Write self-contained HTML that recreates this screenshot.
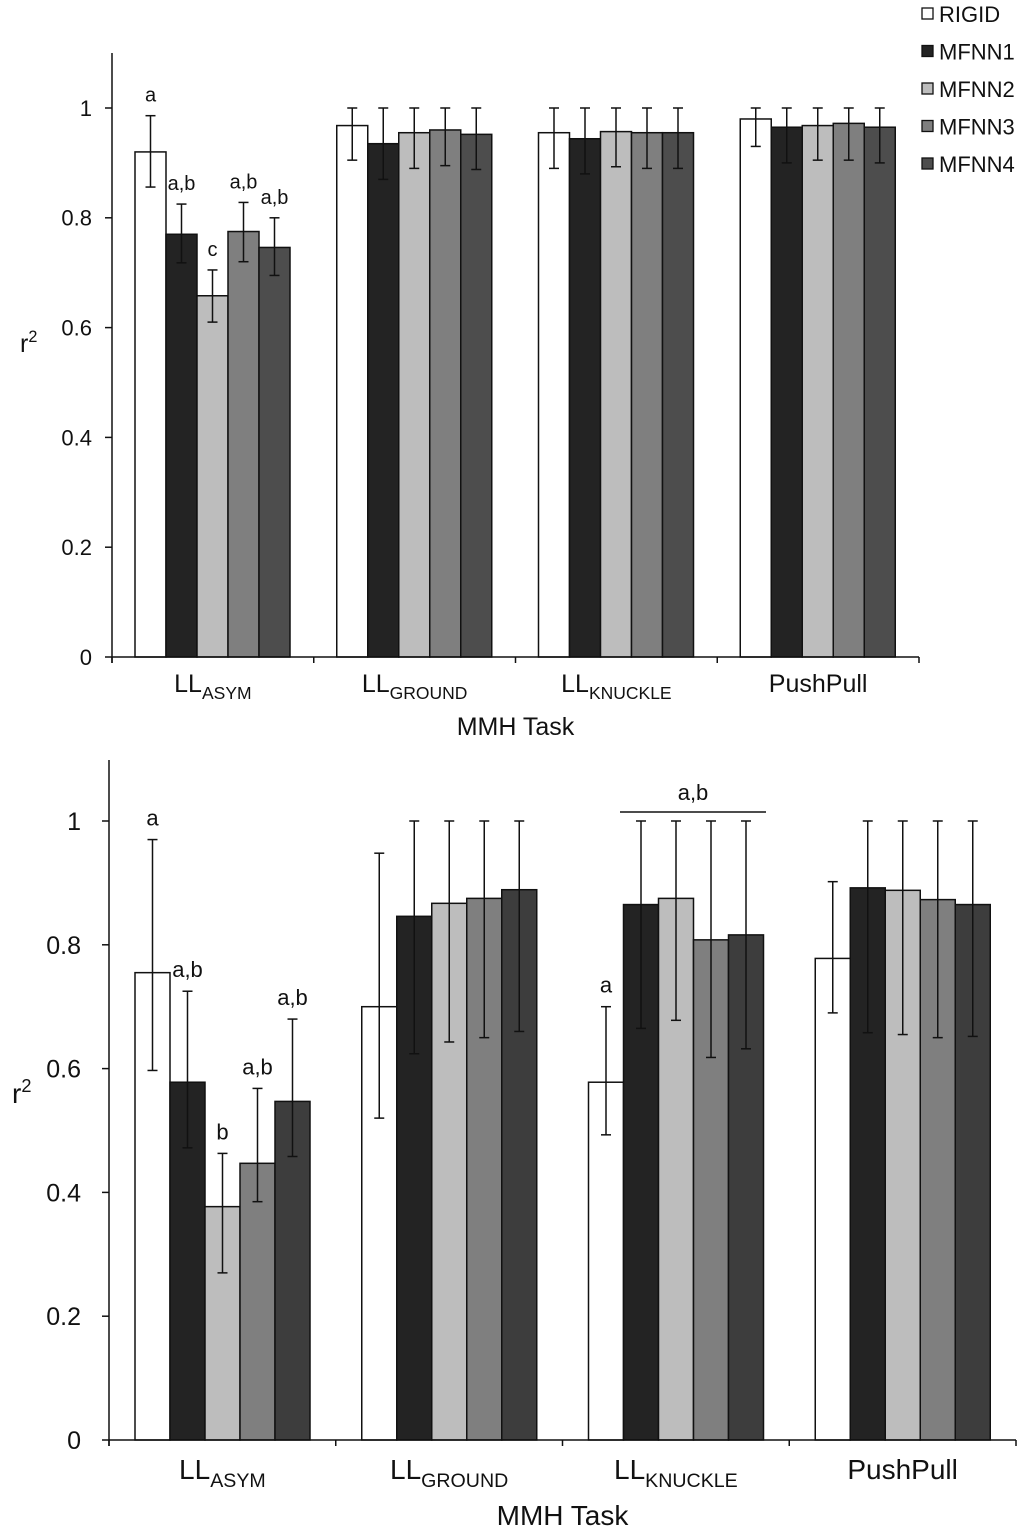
<!DOCTYPE html>
<html><head><meta charset="utf-8"><style>
body{margin:0;background:#fff}
svg{display:block;font-family:"Liberation Sans",Arial,sans-serif}
</style></head><body>
<svg id="chart" width="1024" height="1534" viewBox="0 0 1024 1534"></svg>
<script>
const categories = ["ASYM","GROUND","KNUCKLE","PushPull"];
const seriesNames = ["RIGID","MFNN1","MFNN2","MFNN3","MFNN4"];
const yTicks = [0,0.2,0.4,0.6,0.8,1];
const yTickLabels = ["0","0.2","0.4","0.6","0.8","1"];
// Top panel
const topMeans = [[0.92,0.77,0.658,0.775,0.746],[0.968,0.935,0.955,0.96,0.952],[0.955,0.944,0.957,0.955,0.955],[0.98,0.965,0.968,0.972,0.965]];
const topLow = [[0.856,0.718,0.61,0.72,0.695],[0.905,0.87,0.89,0.895,0.888],[0.89,0.88,0.893,0.89,0.89],[0.93,0.9,0.905,0.905,0.9]];
const topHigh = [[0.986,0.825,0.705,0.828,0.8],[1,1,1,1,1],[1,1,1,1,1],[1,1,1,1,1]];
const topLetters = [["a","a,b","c","a,b","a,b"],["","","","",""],["","","","",""],["","","","",""]];
// Bottom panel
const botMeans = [[0.755,0.578,0.377,0.447,0.547],[0.70,0.846,0.867,0.875,0.889],[0.578,0.865,0.875,0.808,0.816],[0.778,0.892,0.888,0.873,0.865]];
const botLow = [[0.597,0.472,0.27,0.385,0.458],[0.52,0.624,0.643,0.65,0.66],[0.493,0.665,0.678,0.618,0.632],[0.69,0.658,0.655,0.65,0.652]];
const botHigh = [[0.97,0.725,0.463,0.568,0.68],[0.948,1,1,1,1],[0.70,1,1,1,1],[0.902,1,1,1,1]];
const botLetters = [["a","a,b","b","a,b","a,b"],["","","","",""],["a","","","",""],["","","","",""]];

const NS="http://www.w3.org/2000/svg";
const svg=document.getElementById('chart');
function mk(tag,attrs,parent,text){const e=document.createElementNS(NS,tag);for(const k in attrs)e.setAttribute(k,attrs[k]);if(text!==undefined)e.textContent=text;(parent||svg).appendChild(e);return e;}

function panel(cfg){
  const g=mk('g',{});
  
  
  const y=v=>cfg.y0-v*cfg.unit;
  const colors=cfg.colors;
  cfg.means.forEach((grp,ci)=>{
    grp.forEach((v,si)=>{
      const x=cfg.x0+ci*cfg.cw+cfg.off+si*cfg.bw;
      const r=mk('rect',{x:x,y:y(v),width:cfg.bw,height:cfg.y0-y(v),fill:colors[si],stroke:'#111','stroke-width':1.5},g);
      
      
    });
  });
  cfg.means.forEach((grp,ci)=>{
    grp.forEach((v,si)=>{
      const cx=cfg.x0+ci*cfg.cw+cfg.off+si*cfg.bw+cfg.bw/2;
      const lo=y(cfg.low[ci][si]),hi=y(cfg.high[ci][si]);
      const eg=mk('g',{stroke:'#111','stroke-width':1.5},g);
      
      
      mk('line',{x1:cx,x2:cx,y1:lo,y2:hi},eg);
      mk('line',{x1:cx-5,x2:cx+5,y1:lo,y2:lo},eg);
      mk('line',{x1:cx-5,x2:cx+5,y1:hi,y2:hi},eg);
      const L=cfg.letters[ci][si];
      if(L){const t=mk('text',{x:cx,y:hi-14,'text-anchor':'middle','font-size':cfg.lfs,fill:'#111'},g,L);
        
        }
    });
  });
  const ax=mk('g',{stroke:'#111','stroke-width':1.5},g);
  
  
  mk('line',{x1:cfg.x0,x2:cfg.x0,y1:cfg.top,y2:cfg.y0+6},ax);
  mk('line',{x1:cfg.x0,x2:cfg.x0+4*cfg.cw,y1:cfg.y0,y2:cfg.y0},ax);
  for(let i=0;i<=4;i++)mk('line',{x1:cfg.x0+i*cfg.cw,x2:cfg.x0+i*cfg.cw,y1:cfg.y0,y2:cfg.y0+6},ax);
  yTicks.forEach((v,i)=>{
    mk('line',{x1:cfg.x0-7,x2:cfg.x0,y1:y(v),y2:y(v)},ax);
    const t=mk('text',{x:cfg.x0-cfg.tgap,y:y(v)+cfg.tfs*0.36,'text-anchor':'end','font-size':cfg.tfs,fill:'#111'},g,yTickLabels[i]);
    
    
  });
  categories.forEach((c,ci)=>{
    const cx=cfg.x0+ci*cfg.cw+cfg.cw/2;
    const t=mk('text',{x:cx,y:cfg.y0+cfg.cfs*1.4,'text-anchor':'middle','font-size':cfg.cfs,fill:'#111'},g);
    
    
    if(c==='PushPull'){t.textContent=c;}
    else{mk('tspan',{},t,'LL');mk('tspan',{'font-size':cfg.cfs*0.7,dy:cfg.cfs*0.28},t,c);}
  });
  const xt=mk('text',{x:cfg.x0+2*cfg.cw,y:cfg.y0+cfg.tly,'text-anchor':'middle','font-size':cfg.cfs,fill:'#111'},g,'MMH Task');
  
  
  const yt=mk('text',{x:cfg.ylx,y:cfg.yly,'font-size':cfg.cfs,fill:'#111'},g);
  
  
  mk('tspan',{},yt,'r');mk('tspan',{'font-size':cfg.cfs*0.65,dy:-cfg.cfs*0.4},yt,'2');
  return {g,y};
}

panel({name:'top-panel',x0:112,y0:657,unit:549,top:53,cw:201.75,off:23,bw:31,
  means:topMeans,low:topLow,high:topHigh,letters:topLetters,
  colors:['#ffffff','#232323','#bdbdbd','#7f7f7f','#4d4d4d'],lfs:20,tfs:22,tgap:20,cfs:25,tly:78,ylx:20,yly:352});
const bot=panel({name:'bottom-panel',x0:109,y0:1440,unit:619,top:760,cw:226.75,off:26,bw:35,
  means:botMeans,low:botLow,high:botHigh,letters:botLetters,
  colors:['#ffffff','#232323','#bdbdbd','#7f7f7f','#3d3d3d'],lfs:22,tfs:25,tgap:28,cfs:28,tly:85,ylx:12,yly:1103});
const br=mk('line',{x1:620,x2:766,y1:812,y2:812,stroke:'#111','stroke-width':1.5},bot.g);


const bt=mk('text',{x:693,y:800,'text-anchor':'middle','font-size':22,fill:'#111'},bot.g,'a,b');



const legendColors=['#ffffff','#232323','#bdbdbd','#7f7f7f','#4d4d4d'];
const lg=mk('g',{});


seriesNames.forEach((n,i)=>{
  const cy=14+i*37.5;
  const e=mk('g',{},lg);
  
  
  mk('rect',{x:922,y:cy-6,width:11,height:11,fill:legendColors[i],stroke:'#111','stroke-width':1.3},e);
  mk('text',{x:939,y:cy+8,'font-size':22,fill:'#111'},e,n);
});
</script>
</body></html>
